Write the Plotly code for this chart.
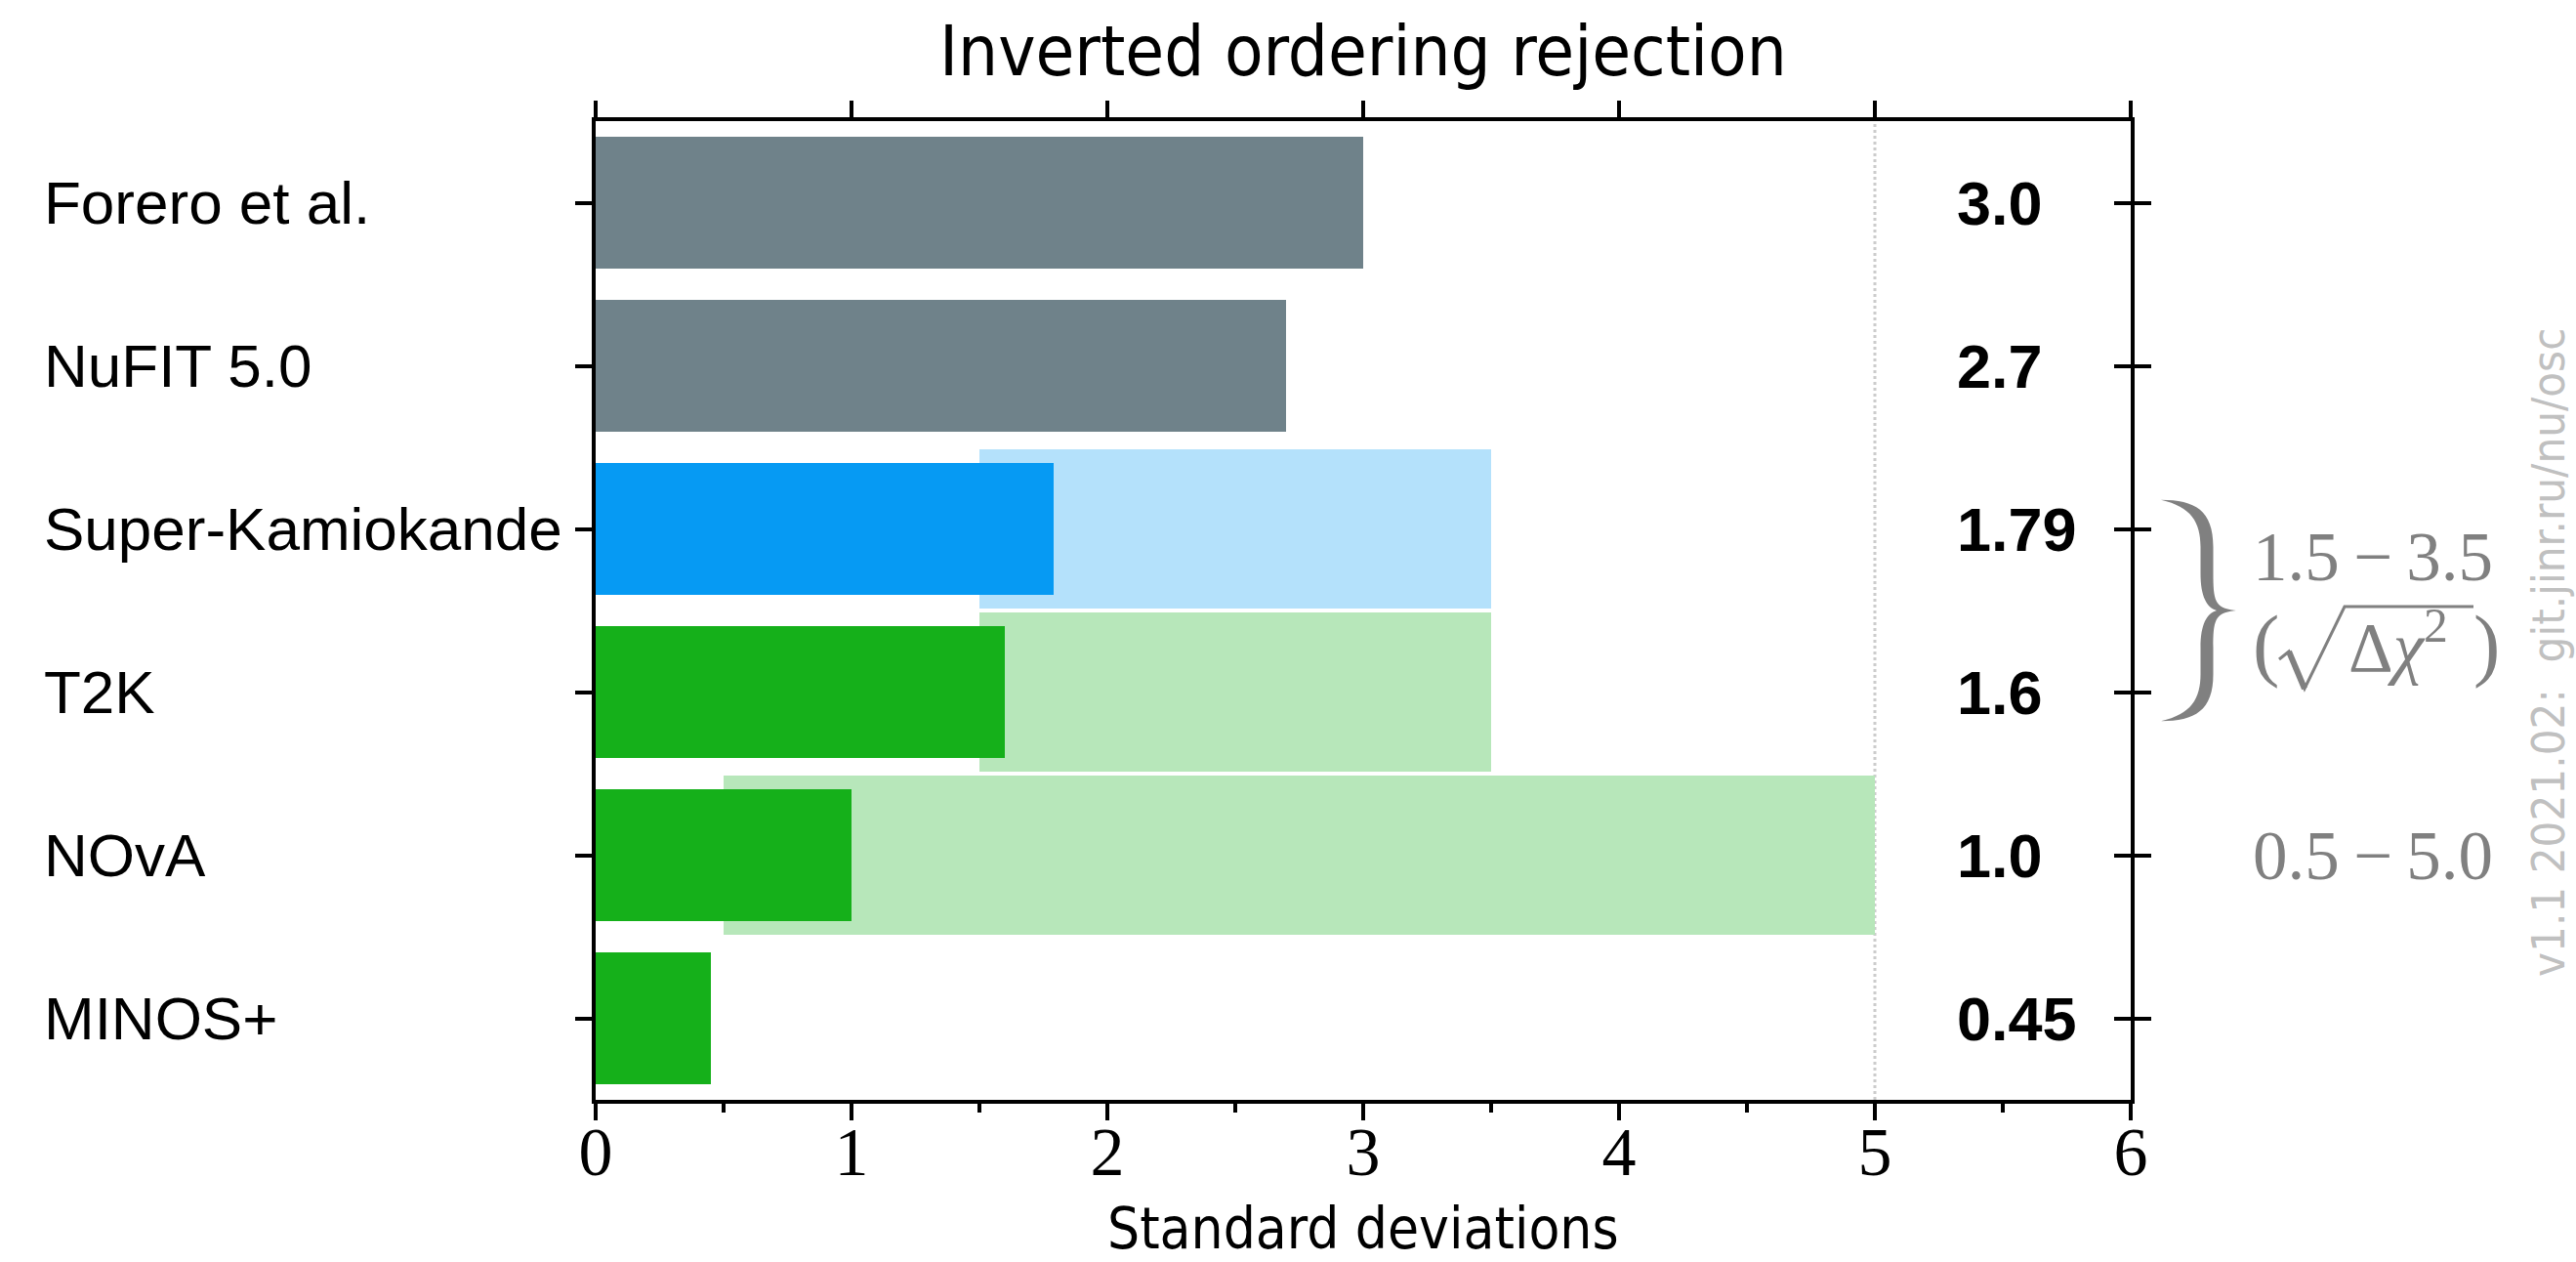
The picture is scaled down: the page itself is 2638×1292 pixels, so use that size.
import plotly.graph_objects as go

# ---- data -----------------------------------------------------------------
experiments = ["Forero et al.", "NuFIT 5.0", "Super-Kamiokande", "T2K", "NOvA", "MINOS+"]
significance = [3.0, 2.7, 1.79, 1.6, 1.0, 0.45]          # sigma, best estimate
value_labels = ["3.0", "2.7", "1.79", "1.6", "1.0", "0.45"]
kind = ["global", "global", "atm", "lbl", "lbl", "lbl"]
range_low = [None, None, 1.5, 1.5, 0.5, None]            # sigma range (low)
range_high = [None, None, 3.5, 3.5, 5.0, None]           # sigma range (high)
x_ticks = [0, 1, 2, 3, 4, 5, 6]
x_minor_step = 0.5
discovery_level = 5

title_text = "Inverted ordering rejection"
xlabel_text = "Standard deviations"
stamp_text = "v1.1 2021.02:  git.jinr.ru/nu/osc"

# ---- style ----------------------------------------------------------------
DARK = {"global": "#6f828a", "atm": "#069af3", "lbl": "#15b01a"}
LIGHT = {"atm": "#b4e1fb", "lbl": "#b7e7ba"}
GREY_TXT = "#808080"
STAMP = "#c0c0c0"
SANS = "Liberation Sans, Arial, sans-serif"
COND = "DejaVu Sans Condensed, Liberation Sans Narrow, sans-serif"
SERIF = "Liberation Serif, DejaVu Serif, serif"

W, H = 2638, 1292
M_L, M_R, M_T, M_B = 610, 456, 124, 166
PW, PH = W - M_L - M_R, H - M_T - M_B
X_RANGE = [0, 6]
Y_RANGE = [len(experiments) - 0.5, -0.5]
LINE_W = 4
TICK_W = 3.5

rows = list(range(len(experiments)))


def px_x(x):
    return M_L + (x - X_RANGE[0]) / (X_RANGE[1] - X_RANGE[0]) * PW


def px_y(y):
    return M_T + (y - Y_RANGE[1]) / (Y_RANGE[0] - Y_RANGE[1]) * PH


def paper_x(p):
    return (p - M_L) / PW


def paper_y(p):
    return (H - M_B - p) / PH


def path_string(segments):
    return " ".join(
        cmd + " " + " ".join(f"{paper_x(px):.5f},{paper_y(py):.5f}" for px, py in seg)
        for cmd, seg in segments
    )


fig = go.Figure()

# light bands: quoted sigma ranges
rr = [i for i in rows if range_low[i] is not None]
fig.add_trace(go.Bar(
    orientation="h",
    y=rr,
    base=[range_low[i] for i in rr],
    x=[range_high[i] - range_low[i] for i in rr],
    width=0.975,
    marker=dict(color=[LIGHT[kind[i]] for i in rr], line=dict(width=0)),
    hoverinfo="skip",
    showlegend=False,
))

# dark bars: best estimate
fig.add_trace(go.Bar(
    orientation="h",
    y=rows,
    x=significance,
    width=0.81,
    marker=dict(color=[DARK[k] for k in kind], line=dict(width=0)),
    hoverinfo="skip",
    showlegend=False,
))

# helper traces so that the mirrored axes get drawn
fig.add_trace(go.Scatter(x=[None], y=[None], xaxis="x2", yaxis="y2", showlegend=False, hoverinfo="skip"))
fig.add_trace(go.Scatter(x=[None], y=[None], xaxis="x3", yaxis="y3", showlegend=False, hoverinfo="skip"))

axis_common = dict(showgrid=False, zeroline=False, tickcolor="black", tickwidth=TICK_W)

fig.update_layout(
    width=W, height=H,
    margin=dict(l=M_L, r=M_R, t=M_T, b=M_B, pad=0),
    paper_bgcolor="white", plot_bgcolor="white",
    barmode="overlay",
    bargap=0,
    xaxis=dict(
        range=X_RANGE, tickvals=x_ticks, ticktext=[str(t) for t in x_ticks],
        ticks="outside", ticklen=17, ticklabelstandoff=-28,
        minor=dict(dtick=x_minor_step, ticks="outside", ticklen=9, tickwidth=TICK_W, tickcolor="black"),
        showline=True, linewidth=LINE_W, linecolor="black",
        tickfont=dict(family=SERIF, size=70, color="black"),
        **axis_common,
    ),
    yaxis=dict(
        range=Y_RANGE, tickvals=rows, showticklabels=False,
        ticks="outside", ticklen=17,
        showline=True, linewidth=LINE_W, linecolor="black",
        **axis_common,
    ),
    xaxis2=dict(
        overlaying="x", side="top", range=X_RANGE, tickvals=x_ticks,
        showticklabels=False, ticks="outside", ticklen=17,
        showline=True, linewidth=LINE_W, linecolor="black",
        **axis_common,
    ),
    yaxis2=dict(
        overlaying="y", side="right", range=Y_RANGE, tickvals=rows,
        showticklabels=False, ticks="outside", ticklen=17,
        showline=True, linewidth=LINE_W, linecolor="black",
        **axis_common,
    ),
    xaxis3=dict(overlaying="x", range=X_RANGE, visible=False),
    yaxis3=dict(
        overlaying="y", side="right", range=Y_RANGE, tickvals=rows,
        showticklabels=False, ticks="inside", ticklen=17, showline=False,
        **axis_common,
    ),
)

shapes = []
# 5 sigma reference line
shapes.append(dict(type="line", xref="x", yref="paper", x0=discovery_level, x1=discovery_level,
                   y0=0, y1=1, line=dict(color="#cccccc", width=3, dash="dot"), layer="below"))

ann = []
# category labels, left aligned
for i, name in enumerate(experiments):
    ann.append(dict(text=name, xref="paper", yref="y", x=paper_x(43), y=i,
                    xanchor="left", yanchor="middle", showarrow=False,
                    font=dict(family=SANS, size=62, color="black")))
# value labels
for i, v in enumerate(significance):
    ann.append(dict(text=value_labels[i], xref="paper", yref="y", x=paper_x(2002), y=i,
                    xanchor="left", yanchor="middle", showarrow=False,
                    font=dict(family=SANS, size=63, color="black", weight="bold")))

# group consecutive rows that quote the same range
groups = []
for i in rr:
    key = (range_low[i], range_high[i])
    if groups and groups[-1][0] == key and groups[-1][1][-1] == i - 1:
        groups[-1][1].append(i)
    else:
        groups.append((key, [i]))


def fmt(v):
    return f"{v:.1f}"


note_font = dict(family=SERIF, size=71, color=GREY_TXT)
for (lo, hi), members in groups:
    label = f"{fmt(lo)}\u2009\u2212\u2009{fmt(hi)}"
    mid = (members[0] + members[-1]) / 2
    tx = px_x(X_RANGE[1]) + 123          # left edge of the range text
    if len(members) > 1:
        # curly brace spanning the rows
        x0, xs, xt = px_x(X_RANGE[1]) + 31, px_x(X_RANGE[1]) + 78, px_x(X_RANGE[1]) + 108
        yt, yb, ym = px_y(members[0] - 0.16), px_y(members[-1] + 0.16), px_y(mid)
        a, b = 6.5, 6.5
        brace = [
            ("M", [(x0, yt - 3)]),
            ("C", [(xs - 12, yt - 3), (xs + a, yt + 8), (xs + a, yt + 45)]),
            ("L", [(xs + a, ym - 38)]),
            ("C", [(xs + a, ym - 10), (xt - 22, ym - 2), (xt, ym)]),
            ("C", [(xt - 22, ym + 2), (xs + a, ym + 10), (xs + a, ym + 38)]),
            ("L", [(xs + a, yb - 45)]),
            ("C", [(xs + a, yb - 8), (xs - 12, yb + 3), (x0, yb + 3)]),
            ("C", [(xs - 16, yb - 4), (xs - b, yb - 20), (xs - b, yb - 45)]),
            ("L", [(xs - b, ym + 38)]),
            ("C", [(xs - b, ym + 14), (xs, ym + 3), (xs + 10, ym)]),
            ("C", [(xs, ym - 3), (xs - b, ym - 14), (xs - b, ym - 38)]),
            ("L", [(xs - b, yt + 45)]),
            ("C", [(xs - b, yt + 20), (xs - 16, yt + 4), (x0, yt - 3)]),
        ]
        shapes.append(dict(type="path", xref="paper", yref="paper", path=path_string(brace) + " Z",
                           fillcolor=GREY_TXT, line=dict(width=0), layer="above"))
        ann.append(dict(text=label, xref="paper", yref="y", x=paper_x(tx), y=mid - 0.33,
                        xanchor="left", yanchor="middle", showarrow=False, font=note_font))

        # (sqrt(Delta chi^2)) : parentheses, radical sign and radicand
        base_y = px_y(mid) + 62             # text baseline
        ann.append(dict(text="(", xref="paper", yref="paper", x=paper_x(tx), y=paper_y(base_y + 20),
                        xanchor="left", yanchor="bottom", showarrow=False,
                        font=dict(family=SERIF, size=82, color=GREY_TXT)))
        ann.append(dict(text="\u0394<i>\u03c7</i><sup>2</sup>", xref="paper", yref="paper",
                        x=paper_x(tx + 98), y=paper_y(base_y + 17),
                        xanchor="left", yanchor="bottom", showarrow=False, font=note_font))
        ann.append(dict(text=")", xref="paper", yref="paper", x=paper_x(tx + 226), y=paper_y(base_y + 20),
                        xanchor="left", yanchor="bottom", showarrow=False,
                        font=dict(family=SERIF, size=82, color=GREY_TXT)))
        top = base_y - 66
        radical = [("M", [(tx + 29, base_y - 12)]), ("L", [(tx + 39, base_y - 20)]),
                   ("L", [(tx + 55, base_y + 18)]), ("L", [(tx + 96, top)]), ("L", [(tx + 228, top)])]
        shapes.append(dict(type="path", xref="paper", yref="paper", path=path_string(radical),
                           line=dict(color=GREY_TXT, width=3), layer="above"))
        shapes.append(dict(type="path", xref="paper", yref="paper",
                           path=path_string([("M", [(tx + 39, base_y - 20)]), ("L", [(tx + 55, base_y + 18)])]),
                           line=dict(color=GREY_TXT, width=6), layer="above"))
    else:
        ann.append(dict(text=label, xref="paper", yref="y", x=paper_x(tx), y=mid,
                        xanchor="left", yanchor="middle", showarrow=False, font=note_font))

# title, axis label, version stamp
ann.append(dict(text=title_text, xref="paper", yref="paper", x=0.5, y=paper_y(52),
                xanchor="center", yanchor="middle", showarrow=False,
                font=dict(family=COND, size=72, color="black")))
ann.append(dict(text=xlabel_text, xref="paper", yref="paper", x=0.5, y=paper_y(1258),
                xanchor="center", yanchor="middle", showarrow=False,
                font=dict(family=COND, size=58, color="black")))
ann.append(dict(text=stamp_text, xref="paper", yref="paper", x=paper_x(2609), y=paper_y(668),
                xanchor="center", yanchor="middle", textangle=-90, showarrow=False,
                font=dict(family=COND, size=47, color=STAMP)))

fig.update_layout(annotations=ann, shapes=shapes)

fig.write_html("out.html")
